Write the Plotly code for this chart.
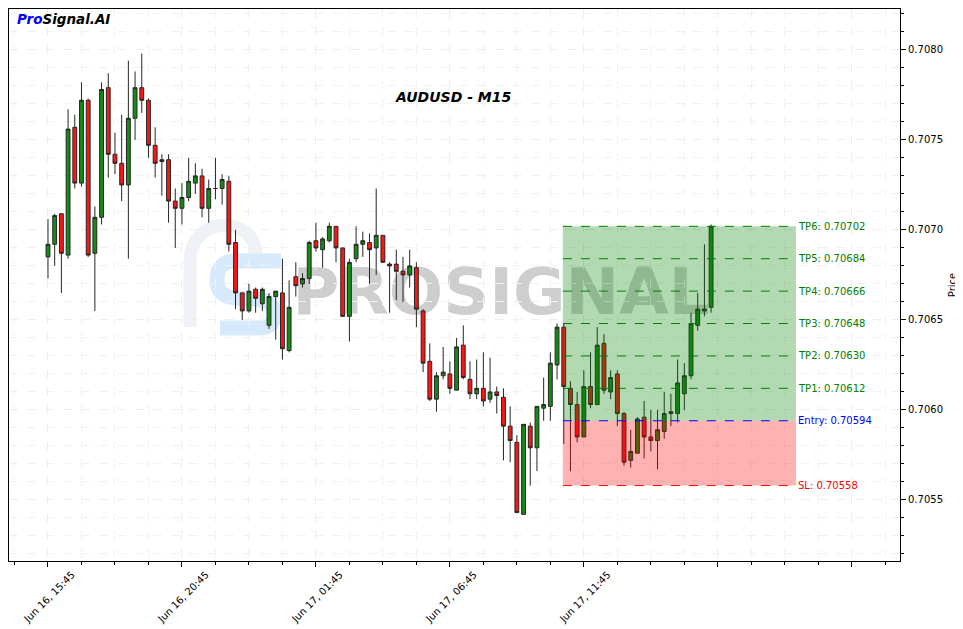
import pandas as pd
import plotly.graph_objects as go

# ---------------- data ----------------
start_time = "2022-06-16 15:45"
n_bars = 100

opens = [0.70685, 0.70692, 0.70709, 0.70686, 0.70757, 0.70726, 0.70772, 0.70687, 0.70707, 0.70779,
         0.70742, 0.70737, 0.70725, 0.70762, 0.70779, 0.70772, 0.70747, 0.70738, 0.70739, 0.70716,
         0.70712, 0.70718, 0.70726, 0.70730, 0.70712, 0.70723, 0.70723, 0.70727, 0.70693, 0.70665,
         0.70655, 0.70667, 0.70659, 0.70647, 0.70663, 0.70665, 0.70633, 0.70674, 0.70670, 0.70673,
         0.70694, 0.70689, 0.70694, 0.70702, 0.70690, 0.70652, 0.70684, 0.70692, 0.70693, 0.70690,
         0.70697, 0.70681, 0.70681, 0.70677, 0.70675, 0.70679, 0.70655, 0.70627, 0.70606, 0.70619,
         0.70620, 0.70611, 0.70636, 0.70617, 0.70609, 0.70612, 0.70606, 0.70610, 0.70607, 0.70591,
         0.70582, 0.70542, 0.70591, 0.70579, 0.70601, 0.70602, 0.70625, 0.70646, 0.70612, 0.70603,
         0.70585, 0.70613, 0.70603, 0.70637, 0.70610, 0.70620, 0.70598, 0.70572, 0.70576, 0.70596,
         0.70585, 0.70583, 0.70588, 0.70599, 0.70598, 0.70609, 0.70619, 0.70647, 0.70655, 0.70657]
highs = [0.70706, 0.70709, 0.70709, 0.70767, 0.70764, 0.70782, 0.70773, 0.70713, 0.70782, 0.70787,
         0.70754, 0.70764, 0.70794, 0.70788, 0.70798, 0.70773, 0.70757, 0.70742, 0.70742, 0.70723,
         0.70726, 0.70740, 0.70737, 0.70734, 0.70728, 0.70740, 0.70731, 0.70730, 0.70700, 0.70665,
         0.70670, 0.70668, 0.70668, 0.70665, 0.70666, 0.70684, 0.70672, 0.70682, 0.70676, 0.70694,
         0.70704, 0.70696, 0.70704, 0.70702, 0.70690, 0.70684, 0.70702, 0.70699, 0.70698, 0.70723,
         0.70697, 0.70682, 0.70689, 0.70685, 0.70689, 0.70682, 0.70656, 0.70637, 0.70621, 0.70635,
         0.70627, 0.70640, 0.70647, 0.70627, 0.70628, 0.70632, 0.70629, 0.70613, 0.70612, 0.70602,
         0.70586, 0.70592, 0.70593, 0.70602, 0.70618, 0.70632, 0.70648, 0.70648, 0.70616, 0.70610,
         0.70622, 0.70632, 0.70646, 0.70642, 0.70622, 0.70622, 0.70599, 0.70589, 0.70596, 0.70605,
         0.70600, 0.70600, 0.70610, 0.70609, 0.70628, 0.70626, 0.70654, 0.70665, 0.70692, 0.70703]
lows = [0.70673, 0.70680, 0.70665, 0.70684, 0.70723, 0.70724, 0.70685, 0.70655, 0.70703, 0.70729,
        0.70731, 0.70716, 0.70684, 0.70750, 0.70765, 0.70740, 0.70729, 0.70719, 0.70704, 0.70690,
        0.70703, 0.70716, 0.70720, 0.70707, 0.70704, 0.70717, 0.70714, 0.70688, 0.70656, 0.70650,
        0.70654, 0.70654, 0.70655, 0.70645, 0.70639, 0.70628, 0.70632, 0.70663, 0.70668, 0.70670,
        0.70688, 0.70679, 0.70693, 0.70682, 0.70652, 0.70638, 0.70682, 0.70685, 0.70670, 0.70675,
        0.70682, 0.70654, 0.70661, 0.70660, 0.70668, 0.70646, 0.70621, 0.70605, 0.70599, 0.70617,
        0.70609, 0.70611, 0.70617, 0.70606, 0.70606, 0.70602, 0.70604, 0.70598, 0.70572, 0.70571,
        0.70543, 0.70542, 0.70558, 0.70566, 0.70594, 0.70594, 0.70617, 0.70581, 0.70566, 0.70582,
        0.70585, 0.70601, 0.70603, 0.70609, 0.70606, 0.70591, 0.70569, 0.70568, 0.70576, 0.70573,
        0.70577, 0.70567, 0.70584, 0.70591, 0.70593, 0.70600, 0.70617, 0.70644, 0.70652, 0.70654]
closes = [0.70692, 0.70708, 0.70687, 0.70756, 0.70726, 0.70772, 0.70686, 0.70707, 0.70778, 0.70742,
          0.70737, 0.70725, 0.70762, 0.70779, 0.70772, 0.70747, 0.70737, 0.70739, 0.70716, 0.70712,
          0.70718, 0.70727, 0.70730, 0.70712, 0.70723, 0.70723, 0.70728, 0.70692, 0.70665, 0.70655,
          0.70666, 0.70662, 0.70667, 0.70663, 0.70666, 0.70634, 0.70657, 0.70669, 0.70673, 0.70693,
          0.70690, 0.70695, 0.70702, 0.70690, 0.70652, 0.70682, 0.70692, 0.70694, 0.70689, 0.70697,
          0.70682, 0.70680, 0.70677, 0.70675, 0.70680, 0.70656, 0.70626, 0.70606, 0.70619, 0.70621,
          0.70612, 0.70635, 0.70618, 0.70609, 0.70612, 0.70605, 0.70610, 0.70608, 0.70591, 0.70583,
          0.70543, 0.70592, 0.70579, 0.70602, 0.70603, 0.70626, 0.70646, 0.70613, 0.70603, 0.70585,
          0.70613, 0.70603, 0.70636, 0.70611, 0.70618, 0.70598, 0.70571, 0.70577, 0.70595, 0.70585,
          0.70583, 0.70589, 0.70598, 0.70598, 0.70615, 0.70619, 0.70648, 0.70656, 0.70656, 0.70702]

entry_price = 0.70594
sl_price = 0.70558
tp_names = ["TP1", "TP2", "TP3", "TP4", "TP5", "TP6"]
tp_prices = [0.70612, 0.70630, 0.70648, 0.70666, 0.70684, 0.70702]
entry_bar = 77

tick_bars = [0, 20, 40, 60, 80, 100, 120]
tick_labels = ["Jun 16, 15:45", "Jun 16, 20:45", "Jun 17, 01:45", "Jun 17, 06:45",
               "Jun 17, 11:45", "", ""]

title_text = "AUDUSD - M15"
# ---------------------------------------

bar = pd.Timedelta(minutes=15)
times = pd.date_range(start_time, periods=n_bars, freq="15min")
t0 = times[0]

fig = go.Figure()

fig.add_trace(go.Candlestick(
    x=times, open=opens, high=highs, low=lows, close=closes,
    increasing=dict(fillcolor="#148c14", line=dict(color="#262626", width=1)),
    decreasing=dict(fillcolor="#ff1414", line=dict(color="#262626", width=1)),
    whiskerwidth=0, showlegend=False, hoverinfo="skip",
))

zone_x0 = times[entry_bar] - pd.Timedelta(minutes=2)
zone_x1 = times[-1] + pd.Timedelta(minutes=190)

# The page body has an 8px margin: plot area (page px) is x 9..900, y 9..561
W, H = 955, 621
PL, PR, PT, PB = 9, 900, 9, 561
def px(x):
    return (x - PL) / (PR - PL)
def py(y):
    return (PB - y) / (PB - PT)

shapes = []
shapes.append(dict(type="rect", xref="x", yref="y", x0=zone_x0, x1=zone_x1,
                   y0=entry_price, y1=tp_prices[-1], fillcolor="rgba(0,128,0,0.3)",
                   line=dict(width=0), layer="above"))
shapes.append(dict(type="rect", xref="x", yref="y", x0=zone_x0, x1=zone_x1,
                   y0=sl_price, y1=entry_price, fillcolor="rgba(255,0,0,0.3)",
                   line=dict(width=0), layer="above"))
for p in tp_prices:
    shapes.append(dict(type="line", xref="x", yref="y", x0=zone_x0, x1=zone_x1, y0=p, y1=p,
                       line=dict(color="green", width=1, dash="dash"), layer="above"))
shapes.append(dict(type="line", xref="x", yref="y", x0=zone_x0, x1=zone_x1, y0=entry_price,
                   y1=entry_price, line=dict(color="blue", width=1, dash="dash"), layer="above"))
shapes.append(dict(type="line", xref="x", yref="y", x0=zone_x0, x1=zone_x1, y0=sl_price,
                   y1=sl_price, line=dict(color="red", width=1, dash="dash"), layer="above"))

def path(cmds):
    out = []
    for c in cmds:
        if isinstance(c, str):
            out.append(c)
        else:
            out.append(f"{px(c[0]):.5f},{py(c[1]):.5f}")
    return " ".join(out)

# Watermark logo (decoration)
arch = path(["M", (190, 327), "L", (190, 262), "C", (190, 214), (256, 214), (256, 256)])
shapes.append(dict(type="path", xref="paper", yref="paper", path=arch,
                   line=dict(color="#eef1f5", width=13), layer="below"))
s_path = path(["M", (281, 261), "L", (236, 261), "Q", (217, 261), (217, 280),
               "Q", (217, 297), (236, 298), "L", (262, 300), "Q", (274, 302), (274, 314),
               "Q", (274, 328), (260, 328), "L", (220, 328)])
shapes.append(dict(type="path", xref="paper", yref="paper", path=s_path,
                   line=dict(color="#d6eafb", width=15), layer="below"))
shapes.append(dict(type="rect", xref="paper", yref="paper", x0=px(280), x1=px(722),
                   y0=py(322), y1=py(252), line=dict(width=0), fillcolor="rgba(0,0,0,0)",
                   layer="below",
                   label=dict(text="<b>PROSIGNAL</b>", textposition="middle center",
                              font=dict(family="DejaVu Sans", size=64,
                                        color="rgba(110,110,110,0.34)"))))

annotations = []
for name, p in zip(tp_names, tp_prices):
    annotations.append(dict(x=zone_x1, y=p, xref="x", yref="y", text=f"{name}: {p:.5f}",
                            showarrow=False, xanchor="left", yanchor="middle",
                            font=dict(size=10, color="green")))
annotations.append(dict(x=zone_x1, y=entry_price, xref="x", yref="y",
                        text=f"Entry: {entry_price:.5f}", showarrow=False, xanchor="left",
                        yanchor="middle", font=dict(size=10, color="blue")))
annotations.append(dict(x=zone_x1, y=sl_price, xref="x", yref="y",
                        text=f"SL: {sl_price:.5f}", showarrow=False, xanchor="left",
                        yanchor="middle", font=dict(size=10, color="red")))
annotations.append(dict(x=px(453), y=py(97), xref="paper", yref="paper",
                        text=f"<b><i>{title_text}</i></b>", showarrow=False,
                        xanchor="center", yanchor="middle", font=dict(size=14, color="black")))
annotations.append(dict(x=px(15), y=py(19), xref="paper", yref="paper",
                        text="<b><i><span style='color:blue'>Pro</span>Signal.AI</i></b>",
                        showarrow=False, xanchor="left", yanchor="middle",
                        font=dict(size=13.5, color="black")))

x_range = [t0 - 5.82 * bar, t0 + 127.2 * bar]
tick_vals = [t0 + b * bar for b in tick_bars]
# y range matching the reference scale (90 px per 0.0005)
y_range = [0.705161, 0.708227]

fig.update_layout(
    width=W, height=H,
    margin=dict(l=PL - 8, r=W - (PR - 8), t=PT - 8, b=H - (PB - 8), autoexpand=False),
    paper_bgcolor="white", plot_bgcolor="white",
    font=dict(family="DejaVu Sans", size=10, color="black"),
    shapes=shapes, annotations=annotations, showlegend=False,
    boxgap=0.18,
    xaxis=dict(
        type="date", range=x_range, rangeslider=dict(visible=False),
        tickmode="array", tickvals=tick_vals, ticktext=tick_labels, tickangle=-45,
        ticklabeloverflow="allow", ticklabelshift=24, ticklabelstandoff=-2,
        ticks="outside", ticklen=5, tickcolor="black", showline=True, linecolor="black",
        linewidth=1, mirror=True, showgrid=True, gridcolor="#eeeeee", griddash="dash",
        gridwidth=1, zeroline=False,
        minor=dict(tick0=t0, dtick=75 * 60 * 1000, ticks="outside", ticklen=3,
                   tickcolor="black", showgrid=True, gridcolor="#f2f2f2", griddash="dash"),
    ),
    yaxis=dict(
        side="right", range=y_range, dtick=0.0005, tick0=0.7, tickformat=".4f",
        ticks="outside", ticklen=5, tickcolor="black", showline=True, linecolor="black",
        linewidth=1, mirror=True, showgrid=True, gridcolor="#eeeeee", griddash="dash",
        zeroline=False, ticklabeloverflow="allow",
        title=dict(text="Price", standoff=6, font=dict(size=10)),
        minor=dict(dtick=0.0001, tick0=0.7, ticks="outside", ticklen=3, tickcolor="black",
                   showgrid=True, gridcolor="#f2f2f2", griddash="dash"),
    ),
)

fig.write_html("out.html")
